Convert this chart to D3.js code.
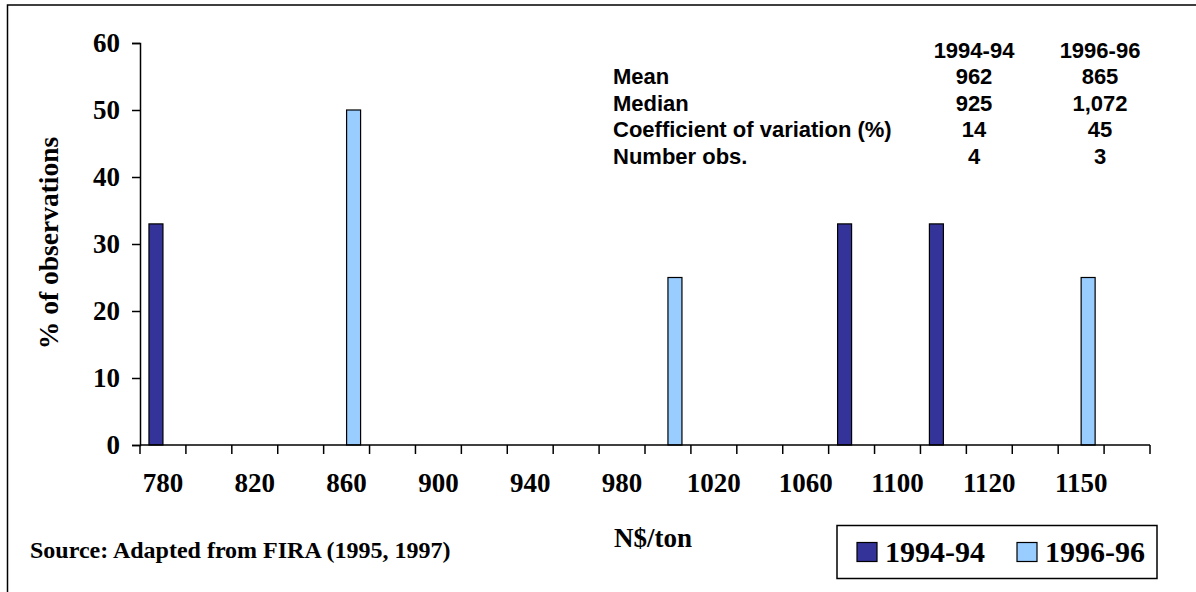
<!DOCTYPE html>
<html>
<head>
<meta charset="utf-8">
<script src="https://cdn.jsdelivr.net/npm/d3@7"></script>
<style>
  body { margin: 0; background: #fff; }
  .serif { font-family: "Liberation Serif", "Times New Roman", serif; font-weight: bold; }
  .sans { font-family: "Liberation Sans", Arial, sans-serif; font-weight: bold; }
</style>
</head>
<body>
<div class="chart"></div>
<script>
// price classes (N$/ton); only every other one carries a label
var categories = ["780", "800", "820", "840", "860", "880", "900", "920", "940", "960", "980",
                  "1000", "1020", "1040", "1060", "1080", "1100", "1110", "1120", "1140", "1150", "1160"];
var seriesNames = ["1994-94", "1996-96"];
var values9494 = [33, 0, 0, 0, 0, 0, 0, 0, 0, 0, 0, 0, 0, 0, 0, 33, 0, 33, 0, 0, 0, 0];
var values9696 = [0, 0, 0, 0, 50, 0, 0, 0, 0, 0, 0, 25, 0, 0, 0, 0, 0, 0, 0, 0, 25, 0];
var yTicks = [0, 10, 20, 30, 40, 50, 60];

// summary table
var statLabels = ["Mean", "Median", "Coefficient of variation (%)", "Number obs."];
var stats9494 = ["962", "925", "14", "4"];
var stats9696 = ["865", "1,072", "45", "3"];

var colors = ["#333399", "#99CCFF"];

var W = 1196, H = 592;
var plot = {left: 140, right: 1150, top: 43, bottom: 445};

var svg = d3.select(".chart").append("svg")
    .attr("width", W)
    .attr("height", H);

// outer frame (right and bottom edges fall outside the picture)
svg.append("rect")
    .attr("x", 7.5).attr("y", 5)
    .attr("width", W + 10).attr("height", H + 10)
    .attr("fill", "none")
    .attr("stroke", "black")
    .attr("stroke-width", 1.5);

const xScale = d3.scaleBand()
    .domain(categories)
    .range([plot.left, plot.right])
    .padding(0);

const xSub = d3.scaleBand()
    .domain(seriesNames)
    .range([0, xScale.bandwidth()])
    .paddingInner(0)
    .paddingOuter(0.64);

const yScale = d3.scaleLinear()
    .domain([0, 60])
    .range([plot.bottom, plot.top]);

// y axis
const yAxis = d3.axisLeft(yScale)
    .tickValues(yTicks)
    .tickSize(8)
    .tickPadding(12);

const yAxisGroup = svg.append("g")
    .attr("transform", `translate(${plot.left},0)`)
    .call(yAxis);
yAxisGroup.select(".domain").attr("stroke-width", 1.5);
yAxisGroup.selectAll(".tick line").attr("stroke-width", 1.5);
yAxisGroup.selectAll(".tick text")
    .attr("class", "serif")
    .style("font-size", "27px")
    .attr("fill", "black");

// bars
var data = [];
categories.forEach(function(c, i) {
    data.push({cat: c, series: seriesNames[0], value: values9494[i]});
    data.push({cat: c, series: seriesNames[1], value: values9696[i]});
});

svg.append("g")
    .selectAll("rect")
    .data(data.filter(d => d.value > 0))
    .enter()
    .append("rect")
    .attr("x", d => xScale(d.cat) + xSub(d.series))
    .attr("y", d => yScale(d.value))
    .attr("width", xSub.bandwidth())
    .attr("height", d => yScale(0) - yScale(d.value))
    .attr("fill", d => colors[seriesNames.indexOf(d.series)])
    .attr("stroke", "black")
    .attr("stroke-width", 1.2);

// x axis: ticks between classes, labels on every other class
const xg = svg.append("g");
xg.append("line")
    .attr("x1", plot.left).attr("x2", plot.right)
    .attr("y1", plot.bottom).attr("y2", plot.bottom)
    .attr("stroke", "black")
    .attr("stroke-width", 1.5);

var boundaries = categories.map(c => xScale(c)).concat([plot.right]);
xg.selectAll(".xtick")
    .data(boundaries)
    .enter()
    .append("line")
    .attr("x1", d => d).attr("x2", d => d)
    .attr("y1", plot.bottom).attr("y2", plot.bottom + 9)
    .attr("stroke", "black")
    .attr("stroke-width", 1.5);

xg.selectAll(".xlabel")
    .data(categories.filter((c, i) => i % 2 === 0))
    .enter()
    .append("text")
    .attr("class", "serif")
    .attr("x", d => xScale(d) + xScale.bandwidth() / 2)
    .attr("y", 492)
    .attr("text-anchor", "middle")
    .style("font-size", "27px")
    .text(d => d);

// axis titles
svg.append("text")
    .attr("class", "serif")
    .attr("transform", "translate(58,243) rotate(-90)")
    .attr("text-anchor", "middle")
    .style("font-size", "27.5px")
    .text("% of observations");

svg.append("text")
    .attr("class", "serif")
    .attr("x", 614)
    .attr("y", 547)
    .style("font-size", "27px")
    .text("N$/ton");

svg.append("text")
    .attr("class", "serif")
    .attr("x", 30)
    .attr("y", 558)
    .style("font-size", "24px")
    .text("Source: Adapted from FIRA (1995, 1997)");

// summary table
var rowY = [58, 84, 111, 137, 164];
var colX = [974, 1100];
var table = svg.append("g").attr("class", "sans").style("font-size", "22px");

seriesNames.forEach(function(s, j) {
    table.append("text")
        .attr("x", colX[j]).attr("y", rowY[0])
        .attr("text-anchor", "middle")
        .text(s);
});
statLabels.forEach(function(l, i) {
    table.append("text")
        .attr("x", 613).attr("y", rowY[i + 1])
        .text(l);
    table.append("text")
        .attr("x", colX[0]).attr("y", rowY[i + 1])
        .attr("text-anchor", "middle")
        .text(stats9494[i]);
    table.append("text")
        .attr("x", colX[1]).attr("y", rowY[i + 1])
        .attr("text-anchor", "middle")
        .text(stats9696[i]);
});

// legend
const legend = svg.append("g");
legend.append("rect")
    .attr("x", 837).attr("y", 525.5)
    .attr("width", 320).attr("height", 53)
    .attr("fill", "white")
    .attr("stroke", "black")
    .attr("stroke-width", 1.5);

var legendX = [857, 1017];
seriesNames.forEach(function(s, j) {
    legend.append("rect")
        .attr("x", legendX[j]).attr("y", 542.5)
        .attr("width", 20).attr("height", 19)
        .attr("fill", colors[j])
        .attr("stroke", "black")
        .attr("stroke-width", 1.2);
    legend.append("text")
        .attr("class", "serif")
        .attr("x", legendX[j] + 28)
        .attr("y", 561.5)
        .style("font-size", "30px")
        .text(s);
});
</script>
</body>
</html>
